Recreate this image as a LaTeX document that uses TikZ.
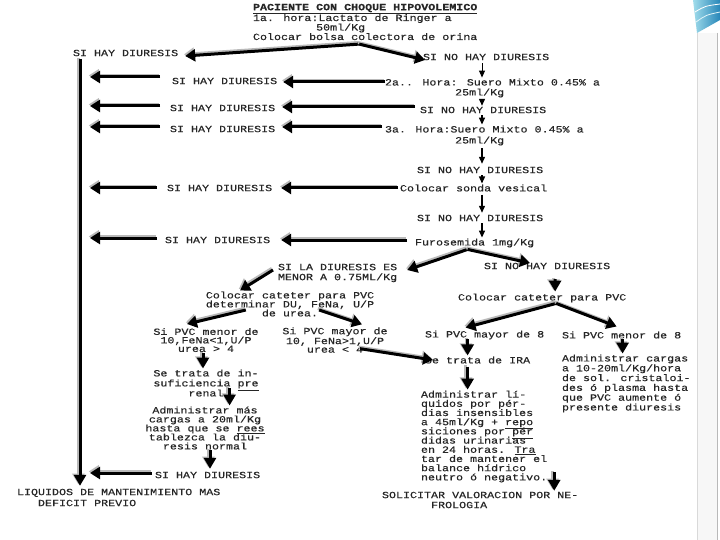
\documentclass[tikz,border=0pt]{standalone}
\usepackage{fontspec}
\newfontfamily\tw[FakeStretch=1.23,FakeBold=0.4]{Liberation Mono}
\usetikzlibrary{calc,arrows.meta}
\definecolor{swA}{RGB}{160,220,235}
\definecolor{swB}{RGB}{40,135,185}
\newcommand{\ulx}[1]{\smash{\underline{#1}}}
\begin{document}
\begin{tikzpicture}[x=1pt,y=-1pt,
  txt/.style={inner sep=0pt, outer sep=0pt, font=\tw\fontsize{9.5}{9.5}\selectfont, text=black!85, anchor=west},
  thk/.style={line width=3pt, -{Triangle[width=12pt,length=10pt]},
    preaction={draw=gray!55, line width=3pt, transform canvas={shift={(-1.2pt,1.6pt)}}}},
  thkd/.style={line width=3pt, -{Triangle[width=12pt,length=11pt]},
    preaction={draw=gray!55, line width=3pt, transform canvas={shift={(-1.6pt,1.2pt)}}}},
  thn/.style={line width=1.3pt, -{Triangle[width=6pt,length=7pt]}}]
\fill[white] (0,0) rectangle (720,540);
\useasboundingbox (0,0) rectangle (720,540);
% slide decoration
\fill[gray!6] (697,33) rectangle (717,540);
\draw[gray!30, line width=0.6pt] (697,33) -- (697,540);
\draw[gray!55, line width=0.8pt] (717,33) -- (717,540);
\shade[left color=swA, right color=swB] (693,0) -- (720,0) -- (720,20) -- (697,33) -- cycle;
\draw[white, line width=0.8pt] (695,12) .. controls (705,6) .. (720,4);
\draw[white!70!swA, line width=0.8pt] (696,22) .. controls (706,15) .. (720,12);

% text nodes
\node[txt, align=left] (top) at (253,22) {\underline{\textbf{PACIENTE CON CHOQUE HIPOVOLEMICO}}\\[-1pt]1a. hora:Lactato de Ringer a\\\phantom{123456789}50ml/Kg\\Colocar bolsa colectora de orina};
\node[txt] (hay0) at (73,53) {SI HAY DIURESIS};
\node[txt] (no0) at (423,57) {SI NO HAY DIURESIS};
\node[txt, align=left, font=\tw\fontsize{9.5}{10}\selectfont] (paso2) at (385,88) {2a.. Hora: Suero Mixto 0.45\% a\\\phantom{0123456789}25ml/Kg};
\node[txt] (hay1) at (172,81) {SI HAY DIURESIS};
\node[txt] (hay2) at (170,108) {SI HAY DIURESIS};
\node[txt] (no1) at (420,110) {SI NO HAY DIURESIS};
\node[txt] (hay3) at (170,129) {SI HAY DIURESIS};
\node[txt, align=left, font=\tw\fontsize{9.5}{11}\selectfont] (paso3) at (385,135.5) {3a. Hora:Suero Mixto 0.45\% a\\\phantom{0123456789}25ml/Kg};
\node[txt] (no2) at (417,170) {SI NO HAY DIURESIS};
\node[txt] (sonda) at (400,188) {Colocar sonda vesical};
\node[txt] (hay4) at (167,188) {SI HAY DIURESIS};
\node[txt] (no3) at (417,218) {SI NO HAY DIURESIS};
\node[txt] (furo) at (415,243) {Furosemida 1mg/Kg};
\node[txt] (hay5) at (165,240) {SI HAY DIURESIS};
\node[txt, align=left, font=\tw\fontsize{9.5}{10}\selectfont] (menor) at (278,273) {SI LA DIURESIS ES\\MENOR A 0.75ML/Kg};
\node[txt] (no4) at (484,266) {SI NO HAY DIURESIS};
\node[txt] (catR) at (458,298) {Colocar cateter para PVC};
\node[txt, anchor=center, align=center, font=\tw\fontsize{9.5}{9}\selectfont] (catL) at (290,304) {Colocar cateter para PVC\\determinar DU, FeNa, U/P\\de urea.};
\node[txt, anchor=center, align=center, font=\tw\fontsize{9.5}{8.5}\selectfont] (menL) at (206,340) {Si PVC menor de\\10,FeNa<1,U/P\\urea > 4};
\node[txt, anchor=center, align=center, font=\tw\fontsize{9.5}{8.5}\selectfont] (mayL) at (335,340) {Si PVC mayor de\\10, FeNa>1,U/P\\urea < 4};
\node[txt] (mayorR) at (425,335) {Si PVC mayor de 8};
\node[txt] (menorR) at (562,335) {Si PVC menor de 8};
\node[txt] (iraR) at (425,360) {Se trata de IRA};
\node[txt, align=left, font=\tw\fontsize{9.5}{9.8}\selectfont] (admR) at (562,383.5) {Administrar cargas\\a 10-20ml/Kg/hora\\de sol. cristaloi-\\des ó plasma hasta\\que PVC aumente ó\\presente diuresis};
\node[txt, anchor=center, align=center, font=\tw\fontsize{9.5}{10}\selectfont] (preL) at (206,383) {Se trata de in-\\suficiencia \ulx{pre}\\renal};
\node[txt, anchor=center, align=center, font=\tw\fontsize{9.5}{9}\selectfont] (admL) at (205,428) {Administrar más\\cargas a 20ml/Kg\\hasta que se \ulx{rees}\\tablezca la diu-\\resis normal};
\node[txt, align=left, font=\tw\fontsize{9.5}{9.2}\selectfont] (admIRA) at (421,436.5) {Administrar lí-\\quidos por pér-\\dias insensibles\\a 45ml/Kg + \ulx{repo}\\siciones por \ulx{pér}\\didas urinarias\\en 24 horas. \ulx{Tra}\\tar de mantener el\\balance hídrico\\neutro ó negativo.};
\node[txt] (hay6) at (155,475) {SI HAY DIURESIS};
\node[txt, align=left, font=\tw\fontsize{9.5}{11}\selectfont] (liq) at (17,497.5) {LIQUIDOS DE MANTENIMIENTO MAS\\\phantom{123}DEFICIT PREVIO};
\node[txt, align=left, font=\tw\fontsize{9.5}{10}\selectfont] (sol) at (382,500) {SOLICITAR VALORACION POR NE-\\\phantom{1234567}FROLOGIA};

% coordinates
\coordinate (split) at ($(top.south)+(-6,4)$);
\coordinate (vtop) at ($(hay0.south west)+(7,3)$);
\coordinate (cx) at (482,0);

% top split
\draw[thk] (split) -- ($(hay0.east)+(7,3)$);
\draw[thk] (split) -- ($(no0.west)+(2,3)$);

% main left vertical line
\draw[thkd] (vtop) -- ($(vtop |- liq.north)+(0,-3)$);

% arrows to the left line
\draw[thk] ($(hay1.west)+(-12,-4)$) -- ($(vtop |- hay1.west)+(10,-4)$);
\draw[thk] ($(hay2.west)+(-10,-2)$) -- ($(vtop |- hay2.west)+(10,-2)$);
\draw[thk] ($(hay3.west)+(-10,-2)$) -- ($(vtop |- hay3.west)+(10,-2)$);
\draw[thk] ($(hay4.west)+(-10,0)$) -- ($(vtop |- hay4.west)+(10,0)$);
\draw[thk] ($(hay5.west)+(-8,-2)$) -- ($(vtop |- hay5.west)+(10,-2)$);
\draw[thk] ($(hay6.west)+(-3,-2)$) -- ($(vtop |- hay6.west)+(10,-2)$);

% arrows from the steps to the SI HAY DIURESIS labels
\draw[thk] ($(hay1.east -| paso2.west)+(0,1)$) -- ($(hay1.east)+(6,1)$);
\draw[thk] ($(hay2.east -| no1.west)+(-5,-1)$) -- ($(hay2.east)+(7,-1)$);
\draw[thk] ($(hay3.east -| paso3.west)+(-3,-2)$) -- ($(hay3.east)+(7,-2)$);
\draw[thk] ($(hay4.east -| sonda.west)+(-2,0)$) -- ($(hay4.east)+(9,0)$);
\draw[thk] ($(hay5.east -| furo.west)+(-8,0)$) -- ($(hay5.east)+(11,0)$);

% centre column
\draw[thn, line width=0.9pt] ($(no0.south -| cx)+(0,3)$) -- ($(paso2.north -| cx)+(0,-1)$);
\draw[thn] ($(paso2.south -| cx)+(0,2)$) -- ($(no1.north -| cx)+(0,-1)$);
\draw[thn] ($(no1.south -| cx)+(0,2)$) -- ($(paso3.north -| cx)+(0,-1)$);
\draw[thn] ($(paso3.south -| cx)+(0,3)$) -- ($(no2.north -| cx)+(0,-3)$);
\draw[thn] ($(no2.south -| cx)+(0,2)$) -- ($(sonda.north -| cx)+(0,-1)$);
\draw[thn] ($(sonda.south -| cx)+(0,3)$) -- ($(no3.north -| cx)+(0,-2)$);
\draw[thn] ($(no3.south -| cx)+(0,2)$) -- ($(furo.north -| cx)+(0,-1)$);

% furosemida split
\draw[thk] ($(furo.south)+(-7,2)$) -- ($(menor.east)+(10,-3)$);
\draw[thk] ($(furo.south)+(-7,2)$) -- ($(no4.west)+(46,-3)$);

% left branch
\draw[thk] ($(menor.west)+(-5,-3)$) -- ($(catL.north)+(-50,-1)$);
\draw[thk] ($(catL.west)+(40,6)$) -- ($(menL.north)+(-19,-4)$);
\draw[thk] ($(catL.east)+(-55,6)$) -- ($(mayL.north)+(27,-3)$);
\draw[thk] ($(mayL.south)+(25,-4)$) -- ($(iraR.west)+(8,0)$);
\draw[thkd] ($(menL.south)+(-3,1)$) coordinate (m5) -- ($(m5 |- preL.north)+(0,-1)$);
\draw[thkd] ($(preL.east)+(-29,5)$) coordinate (m6) -- ($(m6 |- admL.north)+(0,-1)$);
\draw[thkd] ($(admL.south)+(5,1)$) coordinate (m7) -- ($(m7 |- hay6.north)+(0,-3)$);

% right branch
\draw[thkd] ($(no4.south)+(8,10)$) -- ($(catR.north)+(13,-2)$);
\draw[thk] ($(catR.south)+(14,1)$) -- ($(mayorR.north)+(-19,-3)$);
\draw[thk] ($(catR.south)+(14,1)$) -- ($(menorR.north)+(-5,-5)$);
\draw[thkd] ($(mayorR.south)+(-17,0)$) coordinate (m1) -- ($(m1 |- iraR.north)+(0,-1)$);
\draw[thkd] ($(menorR.south)+(1,0)$) coordinate (m2) -- ($(m2 |- admR.north)+(0,-1)$);
\draw[thkd] ($(iraR.south)+(-10,3)$) coordinate (m3) -- ($(m3 |- admIRA.north)+(0,-1)$);
\draw[thkd] ($(admIRA.south east)+(7,-10)$) coordinate (m4) -- ($(m4 |- sol.north)+(0,-1)$);
\end{tikzpicture}
\end{document}
